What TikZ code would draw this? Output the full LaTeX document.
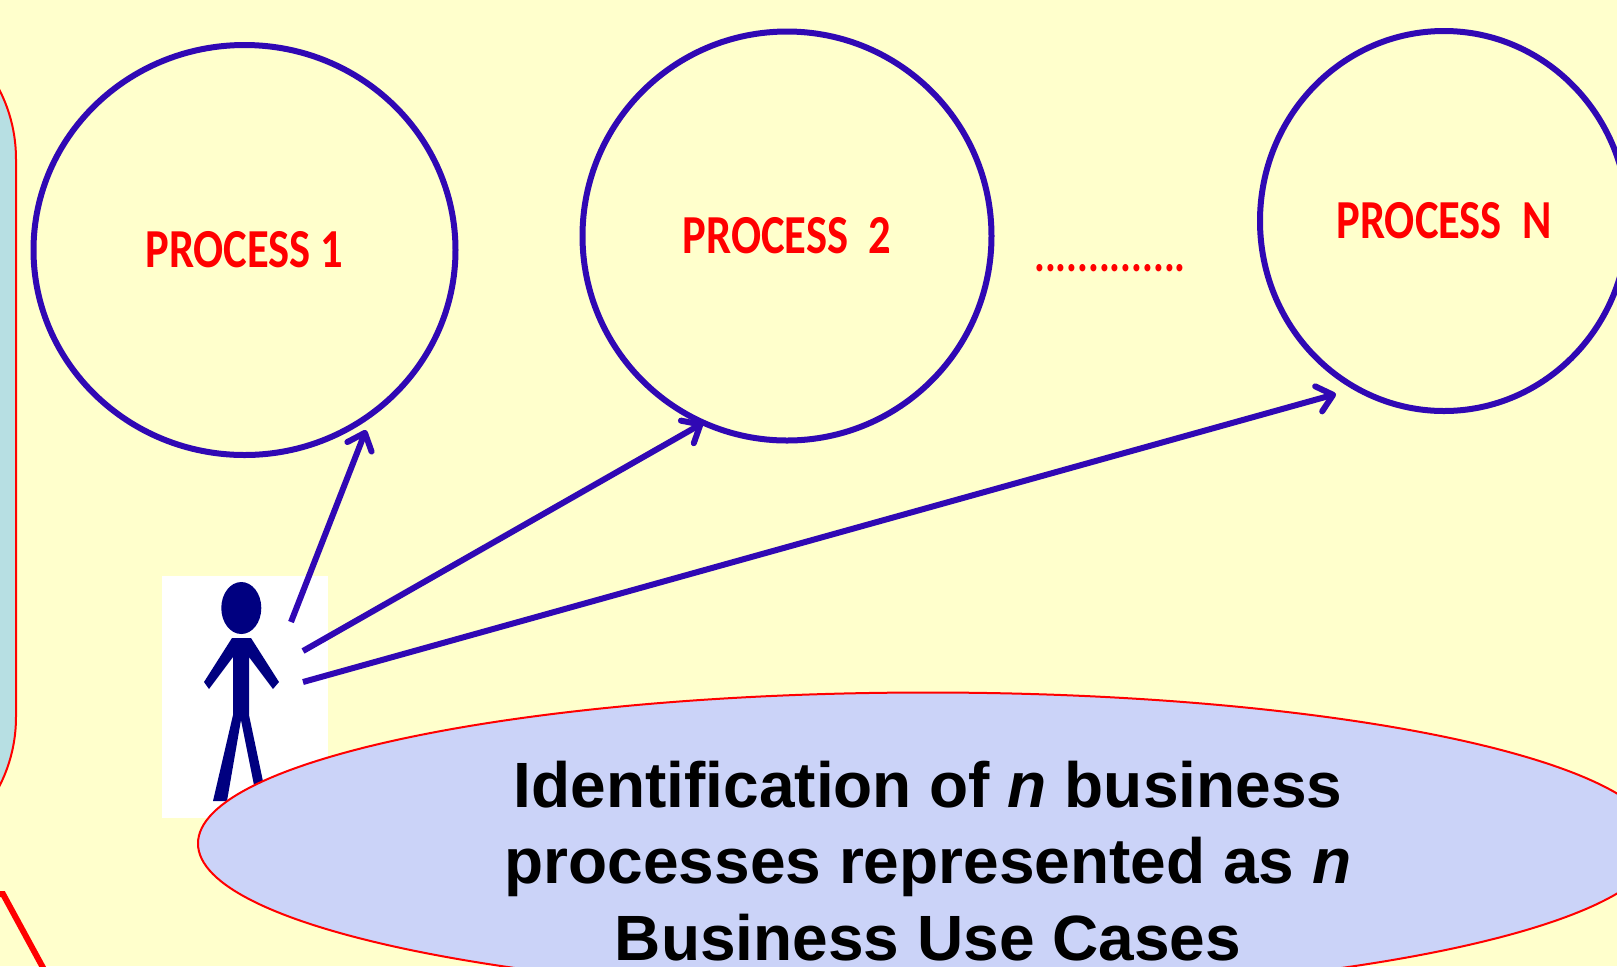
\documentclass[tikz,border=0pt]{standalone}
\usepackage{fontspec}
\usetikzlibrary{shapes.geometric,arrows.meta}
\setmainfont{Liberation Sans}
\newfontfamily\calibrifont[FakeStretch=0.81]{Carlito}
\definecolor{UCpaper}{HTML}{FFFFCC}
\definecolor{UCblue}{HTML}{3008B4}
\definecolor{UCnavy}{HTML}{000080}
\definecolor{UCteal}{HTML}{B7DFE3}
\definecolor{UCcloud}{HTML}{CBD3F8}
\tikzset{
  processcircle/.style={ellipse, draw=UCblue, line width=3pt, inner sep=0pt,
    text=red, font=\calibrifont\bfseries\fontsize{27.5}{30}\selectfont},
  usearrow/.style={draw=UCblue, line width=3pt,
    -{Straight Barb[length=7.5pt,width=13pt,line width=3pt,round]}},
  navybit/.style={fill=UCnavy, draw=none}
}
\newcommand{\process}[5]{%
  \node[processcircle, minimum width=#3, minimum height=#4] (#1) at (#2) {#5};}

\begin{document}
\begin{tikzpicture}[x=0.5pt, y=-0.5pt]
  \useasboundingbox (0,0) rectangle (1617,966);
  \fill[UCpaper] (0,0) rectangle (1617,966);

  % panels cut off by the page edge
  \draw[red, line width=1pt, fill=UCteal, rounded corners=76pt]
  (-300,7) rectangle (16,869);
  \draw[red, line width=3pt] (-20,894) -- (3,894) -- (47,975);

  % the three processes
  \process{proc1}{244.5,250}{211pt}{205pt}{PROCESS 1}
  \process{proc2}{787,236}{204.5pt}{204.5pt}{PROCESS~~2}
  \process{procn}{1444,221}{184pt}{190pt}{PROCESS~~N}
  \node[text=red, font=\calibrifont\bfseries\fontsize{25}{28}\selectfont, inner sep=0pt]
  (dots) at (1110,268) {..............};

  % actor
  \fill[white] (162,576) rectangle (328,818);
  \node[ellipse, navybit, minimum width=20pt, minimum height=26pt, inner sep=0pt] (head) at (241.3,608) {};
  \fill[UCnavy]
  (232,638) -- (251,638) -- (279,682) -- (273,689) -- (249,657) -- (249,715)
  -- (268,805) -- (258,805) -- (241,720) -- (227,801) -- (213,801) -- (233,715)
  -- (233,657) -- (209,689) -- (204,682) -- cycle;
  \coordinate (from1) at (291,622);
  \coordinate (from2) at (303,651);
  \coordinate (from3) at (303,682);
  \coordinate (to1) at (366,430);
  \coordinate (to2) at (703,423);
  \coordinate (to3) at (1336,394);

  \draw[usearrow] (from1) -- (to1);
  \draw[usearrow] (from2) -- (to2);
  \draw[usearrow] (from3) -- (to3);

  % caption
  \node[ellipse, draw=red, line width=1pt, fill=UCcloud, inner sep=0pt,
  minimum width=730pt, minimum height=151pt] (cloud) at (928,843.5) {};
  \node[align=center, inner sep=0pt, font=\bfseries\fontsize{32}{38.2}\selectfont,
  anchor=base] (caption) at (928,960) {Identification of \textit{n} business\\
    processes represented as \textit{n}\\Business Use Cases};
\end{tikzpicture}
\end{document}
